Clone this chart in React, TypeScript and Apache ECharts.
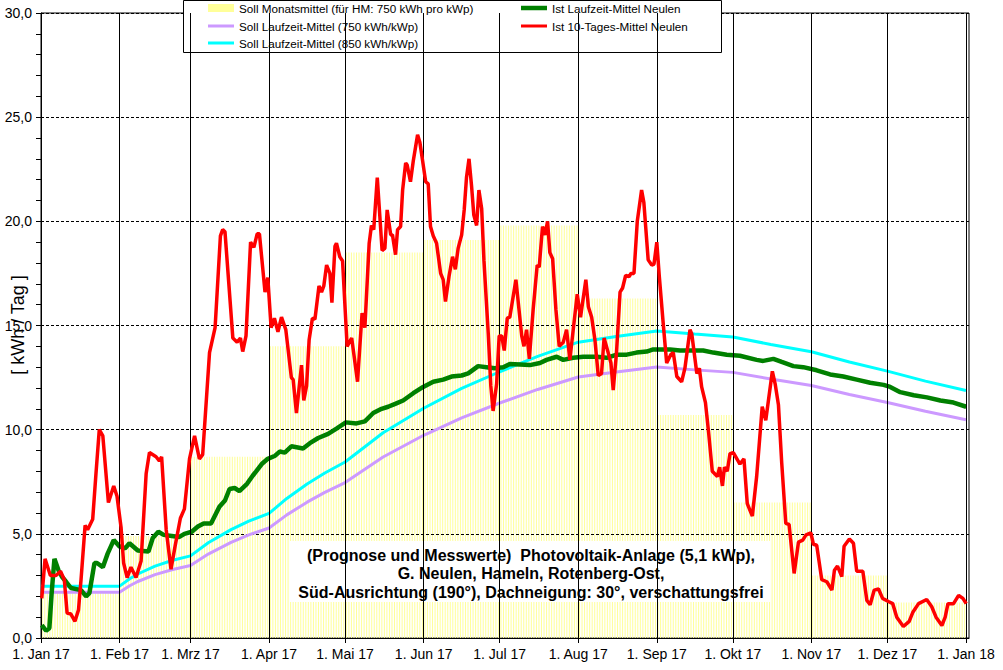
import React, { useEffect, useRef } from 'react';
import * as echarts from 'echarts';

const FONT = '"Liberation Sans", Arial, sans-serif';

const monthStartDays = [0, 31, 59, 90, 120, 151, 181, 212, 243, 273, 304, 334, 365];
const monthLabels = ['1. Jan 17', '1. Feb 17', '1. Mrz 17', '1. Apr 17', '1. Mai 17', '1. Jun 17', '1. Jul 17', '1. Aug 17', '1. Sep 17', '1. Okt 17', '1. Nov 17', '1. Dez 17', '1. Jan 18'];
const monthLengths = [31, 28, 31, 30, 31, 30, 31, 31, 30, 31, 30, 31];

// Soll Monatsmittel (kWh/Tag) per month
const sollMonthly = [2.2, 4.9, 8.7, 14.0, 18.5, 19.1, 19.8, 16.3, 10.7, 6.5, 3.0, 1.7];

// [day of year, kWh/Tag]
const soll750 = [[0, 2.2], [31, 2.2], [35, 2.51], [38, 2.7], [45, 3.04], [52, 3.29], [59, 3.48], [66, 4.03], [75, 4.59], [82, 4.95], [90, 5.28], [97, 5.91], [105, 6.52], [112, 6.99], [120, 7.46], [135, 8.69], [151, 9.73], [166, 10.57], [181, 11.28], [196, 11.93], [212, 12.53], [227, 12.77], [243, 13.01], [258, 12.87], [273, 12.75], [288, 12.43], [304, 12.12], [319, 11.69], [334, 11.3], [349, 10.88], [365, 10.48]];

const soll850 = [[0, 2.49], [31, 2.49], [35, 2.84], [38, 3.06], [45, 3.45], [52, 3.73], [59, 3.94], [66, 4.57], [75, 5.2], [82, 5.61], [90, 5.98], [97, 6.7], [105, 7.39], [112, 7.92], [120, 8.45], [135, 9.85], [151, 11.03], [166, 11.98], [181, 12.78], [196, 13.52], [212, 14.2], [227, 14.47], [243, 14.74], [258, 14.59], [273, 14.45], [288, 14.09], [304, 13.74], [319, 13.25], [334, 12.81], [349, 12.33], [365, 11.88]];

const istLaufzeit = [[0.3, 0.62], [2.0, 0.35], [3.3, 0.47], [4.2, 2.15], [5.3, 3.8], [6.9, 3.25], [8.2, 2.95], [9.9, 2.7], [11.8, 2.4], [15.8, 2.3], [17.8, 2.0], [19.1, 2.15], [21.1, 3.6], [22.1, 3.6], [24.4, 3.4], [26.3, 4.05], [28.7, 4.7], [30.9, 4.4], [33.2, 4.3], [34.9, 4.55], [38.2, 4.2], [42.4, 4.15], [44.1, 4.8], [46.3, 5.1], [48.4, 4.95], [51.6, 4.9], [54.6, 4.85], [56.6, 5.0], [59.5, 5.1], [61.9, 5.35], [64.2, 5.5], [67.1, 5.5], [70.4, 6.3], [72.6, 6.6], [74.4, 7.15], [76.4, 7.2], [78.3, 7.05], [81.3, 7.4], [83.6, 7.8], [84.9, 8.0], [87.1, 8.35], [89.5, 8.6], [92.4, 8.75], [94.2, 8.95], [96.2, 8.9], [98.8, 9.2], [103.4, 9.1], [106.1, 9.35], [109.4, 9.6], [113.3, 9.8], [116.6, 10.05], [120.3, 10.35], [124.5, 10.3], [127.8, 10.4], [131.1, 10.8], [134.4, 11.0], [137.0, 11.1], [140.0, 11.25], [142.9, 11.4], [146.9, 11.75], [150.8, 12.05], [154.8, 12.3], [158.7, 12.4], [162.0, 12.55], [166.0, 12.6], [168.6, 12.7], [172.5, 13.05], [175.8, 13.0], [179.1, 12.95], [182.4, 13.0], [185.0, 13.15], [192.9, 13.1], [196.9, 13.2], [199.5, 13.35], [203.5, 13.5], [206.1, 13.35], [210.0, 13.45], [214.0, 13.5], [219.3, 13.5], [223.2, 13.45], [227.2, 13.6], [231.1, 13.6], [235.0, 13.7], [239.0, 13.75], [241.6, 13.85], [245.6, 13.85], [248.2, 13.85], [252.2, 13.8], [256.1, 13.8], [261.3, 13.8], [265.3, 13.7], [270.6, 13.6], [275.8, 13.55], [282.4, 13.35], [285.0, 13.3], [289.0, 13.4], [292.3, 13.25], [296.9, 13.05], [300.8, 13.0], [306.1, 12.85], [311.4, 12.65], [316.6, 12.55], [321.9, 12.4], [327.2, 12.25], [332.5, 12.15], [335.1, 12.05], [339.1, 11.8], [344.4, 11.65], [349.6, 11.55], [354.9, 11.4], [360.1, 11.3], [365.1, 11.1]];

const ist10Tage = [[0.3, 1.9], [1.6, 3.8], [3.7, 3.0], [5.9, 3.0], [7.7, 3.2], [9.2, 2.8], [10.3, 1.2], [11.8, 1.15], [13.4, 0.8], [14.8, 1.35], [15.8, 2.8], [17.4, 5.4], [18.4, 5.2], [20.4, 5.7], [21.7, 7.9], [23.0, 10.0], [24.4, 9.7], [26.6, 6.5], [28.7, 7.3], [30.0, 6.8], [31.6, 5.3], [32.6, 3.6], [34.0, 2.9], [35.5, 3.4], [37.5, 2.9], [39.5, 3.7], [41.5, 7.9], [42.8, 8.9], [45.4, 8.7], [46.7, 8.5], [47.6, 8.7], [49.4, 5.2], [51.3, 3.3], [52.9, 4.4], [55.0, 5.75], [56.6, 6.2], [58.6, 8.6], [60.6, 9.7], [62.5, 8.6], [63.8, 8.8], [66.5, 13.7], [68.7, 14.9], [70.8, 19.3], [71.7, 19.6], [72.6, 19.5], [75.7, 14.4], [77.4, 14.2], [78.7, 14.4], [79.6, 13.75], [80.9, 14.5], [82.7, 19.0], [84.0, 18.75], [85.3, 19.4], [86.2, 19.4], [88.4, 16.6], [89.5, 17.3], [90.8, 14.9], [92.1, 15.35], [93.5, 14.7], [94.9, 15.4], [96.6, 14.8], [98.8, 12.5], [99.5, 12.4], [100.8, 10.8], [102.8, 13.1], [103.7, 11.4], [104.8, 12.1], [105.8, 14.3], [107.1, 15.35], [108.1, 15.3], [109.7, 16.9], [110.7, 16.6], [111.6, 16.9], [112.7, 17.9], [114.0, 17.5], [114.8, 16.1], [116.0, 18.8], [116.6, 18.95], [117.9, 18.3], [119.0, 18.1], [120.8, 14.0], [122.6, 14.4], [124.9, 12.3], [126.7, 15.6], [127.8, 14.9], [129.5, 18.95], [130.4, 19.8], [131.3, 19.6], [132.7, 22.1], [134.6, 18.6], [135.7, 18.7], [136.6, 20.55], [138.0, 19.35], [138.7, 19.35], [139.9, 18.4], [140.7, 19.6], [141.9, 19.75], [142.7, 21.5], [143.9, 22.8], [144.5, 22.7], [145.8, 21.9], [146.9, 22.9], [148.6, 24.15], [149.5, 23.8], [150.6, 22.9], [151.8, 21.9], [152.8, 21.8], [153.7, 19.75], [154.8, 19.3], [156.1, 18.95], [157.7, 17.5], [158.7, 17.2], [159.6, 16.15], [161.0, 17.35], [162.4, 18.3], [163.5, 17.7], [164.6, 18.7], [166.0, 19.35], [167.0, 20.55], [167.9, 22.1], [168.9, 23.0], [169.9, 21.7], [170.8, 20.3], [171.9, 19.8], [172.8, 21.5], [173.9, 20.6], [174.8, 18.1], [176.5, 14.6], [177.5, 12.1], [178.4, 10.9], [179.8, 12.2], [180.8, 14.5], [181.8, 14.5], [182.8, 13.8], [184.0, 15.35], [185.0, 15.4], [187.4, 17.2], [189.7, 14.5], [190.6, 14.0], [191.6, 14.8], [192.7, 13.4], [194.2, 15.75], [195.8, 17.9], [196.6, 17.8], [197.9, 19.75], [198.9, 19.35], [199.9, 20.0], [200.8, 18.5], [201.9, 18.2], [203.2, 15.75], [204.5, 14.0], [206.1, 14.2], [207.4, 14.8], [208.7, 13.35], [210.3, 15.1], [211.6, 16.5], [212.9, 15.4], [215.0, 17.2], [216.0, 15.9], [217.3, 15.4], [218.6, 14.3], [219.9, 12.6], [221.2, 12.7], [222.2, 14.4], [223.8, 13.7], [224.9, 13.2], [225.8, 11.9], [227.1, 13.7], [228.5, 16.6], [229.5, 16.8], [230.7, 17.4], [232.1, 17.35], [232.8, 17.5], [234.0, 17.5], [235.3, 20.0], [237.0, 21.5], [237.9, 20.9], [239.6, 18.15], [241.0, 17.9], [241.9, 17.95], [243.0, 19.0], [244.0, 17.35], [245.6, 15.0], [246.9, 13.2], [248.5, 13.6], [249.5, 13.7], [250.9, 12.55], [252.8, 12.3], [254.1, 12.95], [256.1, 14.8], [256.8, 14.6], [258.8, 12.7], [259.8, 12.95], [260.7, 12.05], [262.2, 11.3], [263.5, 9.8], [264.9, 8.0], [266.9, 7.75], [267.8, 8.2], [268.9, 7.3], [269.7, 8.2], [270.8, 8.0], [271.9, 8.85], [273.2, 8.9], [275.8, 8.35], [277.4, 8.6], [278.7, 6.45], [280.7, 5.85], [282.4, 7.75], [284.6, 11.1], [286.0, 10.45], [287.0, 11.35], [288.6, 12.8], [289.7, 12.2], [291.0, 11.2], [292.3, 8.4], [293.9, 5.5], [295.2, 5.45], [297.2, 3.1], [298.9, 4.6], [300.6, 4.7], [301.9, 4.95], [303.8, 5.05], [304.8, 4.5], [306.1, 4.45], [308.1, 2.8], [310.1, 2.7], [312.1, 2.3], [313.1, 3.25], [314.3, 3.45], [316.0, 2.95], [316.9, 4.4], [319.0, 4.75], [320.6, 4.55], [321.9, 3.2], [324.3, 3.2], [325.9, 1.8], [327.2, 1.6], [328.8, 2.3], [330.5, 2.35], [332.1, 1.9], [334.4, 1.75], [336.1, 1.65], [337.7, 1.0], [340.3, 0.55], [342.6, 0.8], [344.1, 1.25], [346.3, 1.65], [349.5, 1.85], [351.5, 1.5], [353.2, 1.0], [355.5, 0.6], [356.8, 1.0], [357.9, 1.65], [360.1, 1.65], [362.1, 2.05], [363.8, 1.9], [365.1, 1.65]];

const S1 = 'Soll Monatsmittel (für HM: 750 kWh pro kWp)';
const S2 = 'Soll Laufzeit-Mittel (750 kWh/kWp)';
const S3 = 'Soll Laufzeit-Mittel (850 kWh/kWp)';
const S4 = 'Ist Laufzeit-Mittel Neulen';
const S5 = 'Ist 10-Tages-Mittel Neulen';

const yAxisTitle = '[ kWh / Tag ]';
const annotation = '(Prognose und Messwerte)  Photovoltaik-Anlage (5,1 kWp),\nG. Neulen, Hameln, Rotenberg-Ost,\nSüd-Ausrichtung (190°), Dachneigung: 30°, verschattungsfrei';

function buildBars() {
  const out: number[][] = [];
  monthLengths.forEach((len, m) => {
    for (let i = 0; i < len; i++) out.push([monthStartDays[m] + i + 0.5, sollMonthly[m]]);
  });
  return out;
}

function legendFor(name: string, left: number, top: number, h: number) {
  return {
    data: [name],
    left,
    top,
    orient: 'horizontal',
    padding: 0,
    itemWidth: 26,
    itemHeight: h,
    icon: 'rect',
    selectedMode: false,
    z: 6,
    textStyle: { fontSize: 11.7, fontFamily: FONT, color: '#000' },
  };
}

export default function App() {
  const ref = useRef<HTMLDivElement>(null);
  useEffect(() => {
    const chart = echarts.init(ref.current!, null, { renderer: 'svg' });
    const option: any = {
      animation: false,
      backgroundColor: '#ffffff',
      textStyle: { fontFamily: FONT },
      grid: { left: 41, right: 34, top: 13, bottom: 32, show: true, borderColor: '#000', borderWidth: 1, backgroundColor: 'transparent', containLabel: false },
      legend: [
        legendFor(S1, 208, 2, 8),
        legendFor(S2, 208, 20, 3),
        legendFor(S3, 208, 37, 3),
        legendFor(S4, 521, 2, 4.5),
        legendFor(S5, 521, 20, 3),
      ],
      xAxis: {
        type: 'value', min: 0, max: 366.2, z: 1.5,
        axisLine: { show: true, onZero: false, lineStyle: { color: '#000', width: 1 } },
        axisTick: { show: true, customValues: monthStartDays, length: 5, inside: false, lineStyle: { color: '#000' } },
        axisLabel: {
          show: true, customValues: monthStartDays, color: '#000', fontSize: 14, fontFamily: FONT, margin: 9,
          formatter: (v: number) => { const i = monthStartDays.indexOf(Math.round(v)); return i >= 0 ? monthLabels[i] : ''; },
        },
        splitLine: { show: false },
      },
      yAxis: {
        type: 'value', min: 0, max: 30, interval: 5, z: 1.5,
        axisLine: { show: true, lineStyle: { color: '#000', width: 1 } },
        axisTick: { show: true, length: 5, lineStyle: { color: '#000' } },
        minorTick: { show: true, splitNumber: 5, length: 5, lineStyle: { color: '#000' } },
        minorSplitLine: { show: false },
        axisLabel: { color: '#000', fontSize: 14, fontFamily: FONT, margin: 9, formatter: (v: number) => v.toFixed(1).replace('.', ',') },
        splitLine: { show: true, lineStyle: { color: '#000', type: [3, 2], width: 1 } },
      },
      series: [
        {
          type: 'bar', name: S1, data: buildBars(), barWidth: 1, z: 1,
          itemStyle: { color: '#ffff99' },
          markLine: {
            silent: true, symbol: ['none', 'none'], label: { show: false },
            lineStyle: { color: '#000', type: 'solid', width: 1 },
            emphasis: { disabled: true },
            data: monthStartDays.slice(1).map((d) => ({ xAxis: d })),
          },
        },
        { type: 'line', name: S2, data: soll750, showSymbol: false, symbol: 'none', z: 2, color: '#cc99ff', lineStyle: { color: '#cc99ff', width: 3 } },
        { type: 'line', name: S3, data: soll850, showSymbol: false, symbol: 'none', z: 3, color: '#00ffff', lineStyle: { color: '#00ffff', width: 3 } },
        { type: 'line', name: S4, data: istLaufzeit, showSymbol: false, symbol: 'none', z: 4, color: '#008000', lineStyle: { color: '#008000', width: 4.5 } },
        { type: 'line', name: S5, data: ist10Tage, showSymbol: false, symbol: 'none', z: 5, color: '#ff0000', lineStyle: { color: '#ff0000', width: 3.5 } },
      ],
      graphic: [
        { type: 'rect', z: 3, shape: { x: 183.5, y: 0.5, width: 538, height: 52 }, style: { fill: '#ffffff', stroke: '#000000', lineWidth: 1 } },
        { type: 'rect', z: 3, shape: { x: 290, y: 541, width: 480, height: 61 }, style: { fill: '#ffffff' } },
        {
          type: 'text', z: 6, x: 531, y: 573.5,
          style: { text: annotation, font: `bold 16px ${FONT}`, fill: '#000', align: 'center', verticalAlign: 'middle', lineHeight: 18.5 },
        },
        {
          type: 'text', z: 6, x: 18, y: 325, rotation: Math.PI / 2,
          style: { text: yAxisTitle, font: `18px ${FONT}`, fill: '#000', align: 'center', verticalAlign: 'middle' },
        },
      ],
    };
    chart.setOption(option);
    return () => chart.dispose();
  }, []);
  return <div ref={ref} style={{ position: 'fixed', left: 0, top: 0, width: 1003, height: 670, background: '#fff' }} />;
}
